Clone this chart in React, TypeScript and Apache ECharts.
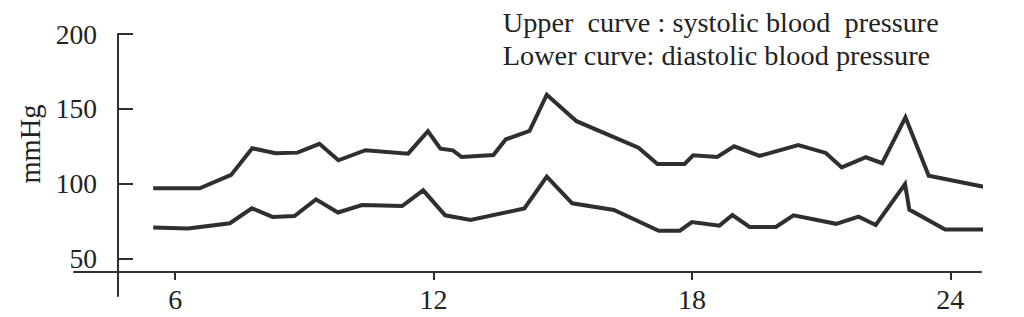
import React, { useEffect, useRef } from "react";
import * as echarts from "echarts";

// Time of day (hours) and blood pressure (mmHg)
const upperHours = [5.49, 6.57, 7.3, 7.79, 8.33, 8.84, 9.35, 9.79, 10.42, 11.41, 11.87, 12.16, 12.45, 12.65, 13.39, 13.68, 14.23, 14.63, 15.32, 16.76, 17.2, 17.83, 18.03, 18.59, 18.98, 19.57, 20.47, 21.11, 21.48, 22.04, 22.42, 22.96, 23.5, 24.77];
const upperValues = [96.9, 96.9, 105.8, 123.6, 120.3, 120.7, 126.6, 115.6, 122.3, 120.0, 135.0, 123.3, 122.2, 117.8, 119.1, 129.6, 135.3, 159.4, 141.7, 124.0, 113.1, 113.1, 118.9, 117.8, 124.9, 118.5, 125.8, 120.5, 110.8, 117.6, 113.6, 144.3, 105.3, 97.9];

const lowerHours = [5.49, 6.3, 7.27, 7.78, 8.26, 8.77, 9.27, 9.78, 10.34, 11.27, 11.76, 12.27, 12.86, 14.11, 14.63, 15.22, 16.19, 17.23, 17.72, 18.0, 18.64, 18.94, 19.34, 19.95, 20.36, 21.35, 21.87, 22.27, 22.95, 23.05, 23.88, 24.81];
const lowerValues = [70.7, 70.0, 73.5, 83.5, 77.7, 78.3, 89.5, 80.7, 85.7, 85.0, 95.5, 78.8, 75.7, 83.4, 104.6, 86.8, 82.4, 68.5, 68.5, 74.3, 71.9, 79.0, 71.0, 71.0, 78.8, 73.1, 77.9, 72.3, 99.6, 82.6, 69.3, 69.3];

const xTicks = [6, 12, 18, 24];
const yTicks = [50, 100, 150, 200];
const yAxisName = "mmHg";
const legendLines = [
  "Upper  curve : systolic blood  pressure",
  "Lower curve: diastolic blood pressure",
];

const FONT = "'Liberation Serif', 'Times New Roman', serif";
const INK = "#2f2f2f";

export default function App() {
  const ref = useRef<HTMLDivElement>(null);
  useEffect(() => {
    if (!ref.current) return;
    const chart = echarts.init(ref.current, undefined, { renderer: "svg" });
    const zip = (xs: number[], ys: number[]) => xs.map((x, i) => [x, ys[i]]);
    chart.setOption({
      animation: false,
      backgroundColor: "#ffffff",
      grid: [
        { left: 74, top: 34, width: 907, height: 238 },
        { left: 118, top: 34, width: 10, height: 262 },
      ],
      xAxis: [
        {
          type: "value",
          gridIndex: 0,
          min: 3.6503,
          max: 24.714,
          axisLine: { show: true, lineStyle: { color: INK, width: 2 } },
          axisTick: {
            show: true,
            length: 8,
            inside: false,
            customValues: xTicks,
            lineStyle: { color: INK, width: 2 },
          },
          axisLabel: {
            customValues: xTicks,
            margin: 13,
            color: "#222",
            fontFamily: FONT,
            fontSize: 28,
          },
          splitLine: { show: false },
        },
        { type: "value", gridIndex: 1, show: false, min: 0, max: 1 },
      ],
      yAxis: [
        { type: "value", gridIndex: 0, show: false, min: 40.9, max: 200 },
        {
          type: "value",
          gridIndex: 1,
          min: 25,
          max: 200,
          position: "left",
          axisLine: { show: true, lineStyle: { color: INK, width: 2 } },
          axisTick: {
            show: true,
            inside: true,
            length: 15,
            customValues: yTicks,
            lineStyle: { color: INK, width: 2 },
          },
          axisLabel: {
            customValues: yTicks,
            margin: 21,
            color: "#222",
            fontFamily: FONT,
            fontSize: 27.5,
          },
          splitLine: { show: false },
        },
      ],
      graphic: [
        {
          type: "text",
          x: 30,
          y: 144,
          rotation: Math.PI / 2,
          style: {
            text: yAxisName,
            fill: "#222",
            font: `28.5px ${FONT}`,
            align: "center",
            verticalAlign: "middle",
          },
        },
        ...legendLines.map((t, i) => ({
          type: "text",
          x: 502.7,
          y: 22.3 + i * 33.3,
          style: {
            text: t,
            fill: "#222",
            font: `28.3px ${FONT}`,
            align: "left",
            verticalAlign: "middle",
          },
        })),
      ],
      series: [
        {
          type: "line",
          xAxisIndex: 0,
          yAxisIndex: 0,
          data: zip(upperHours, upperValues),
          symbol: "none",
          clip: false,
          lineStyle: { color: INK, width: 4, join: "miter" },
        },
        {
          type: "line",
          xAxisIndex: 0,
          yAxisIndex: 0,
          data: zip(lowerHours, lowerValues),
          symbol: "none",
          clip: false,
          lineStyle: { color: INK, width: 4, join: "miter" },
        },
      ],
    });
    return () => chart.dispose();
  }, []);
  return <div ref={ref} style={{ width: 1024, height: 317, position: "absolute", left: 0, top: 0 }} />;
}
